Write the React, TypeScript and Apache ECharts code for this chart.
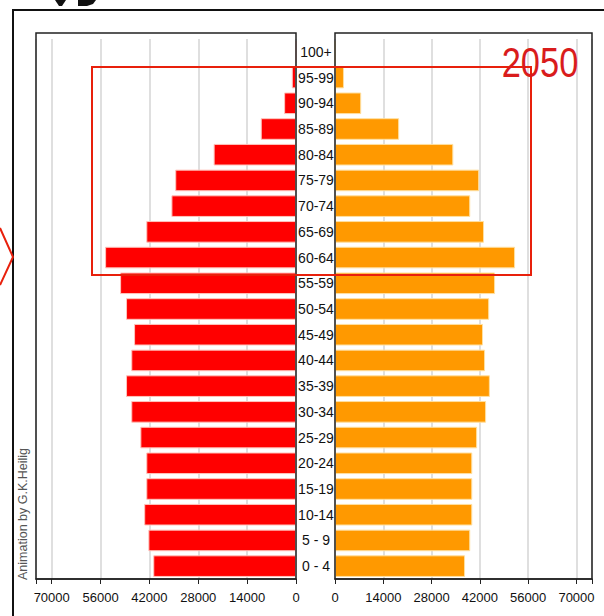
import React, { useEffect, useRef } from "react";
import * as echarts from "echarts";

const ageGroups = [
  "0 - 4", "5 - 9", "10-14", "15-19", "20-24", "25-29", "30-34", "35-39", "40-44", "45-49",
  "50-54", "55-59", "60-64", "65-69", "70-74", "75-79", "80-84", "85-89", "90-94", "95-99", "100+",
];
const leftValues = [
  40900, 42300, 43500, 42900, 42900, 44600, 47200, 48700, 47200, 46400,
  48700, 50400, 54700, 42900, 35700, 34600, 23600, 10100, 3400, 1200, 0,
];
const rightValues = [
  37700, 39200, 39800, 39800, 39800, 41200, 43800, 44900, 43500, 42900,
  44700, 46400, 52200, 43200, 39200, 41800, 34300, 18600, 7600, 2600, 0,
];
const tickStep = 14000;
const axisMax = 74500;
const yearLabel = "2050";
const creditLabel = "Animation by G.K.Heilig";

const FONT = "'Liberation Sans', Arial, sans-serif";

export default function App() {
  const ref = useRef<HTMLDivElement>(null);
  useEffect(() => {
    if (!ref.current) return;
    const chart = echarts.init(ref.current, null, { renderer: "svg" });
    const xCommon = {
      type: "value",
      min: 0,
      max: axisMax,
      interval: tickStep,
      axisLine: { show: true, lineStyle: { color: "#222", width: 1.5 } },
      axisTick: { show: true, length: 5, lineStyle: { color: "#222" } },
      splitLine: { show: true, lineStyle: { color: "#d4d4d4", width: 1.5 } },
      axisLabel: {
        color: "#111",
        fontSize: 13,
        fontFamily: FONT,
        margin: 12,
        showMaxLabel: true,
        formatter: (v: number) => (v % tickStep === 0 ? String(v) : ""),
      },
    };
    chart.setOption({
      animation: false,
      grid: [
        { left: 36, right: 308, top: 39, bottom: 37 },
        { left: 335, right: 12, top: 39, bottom: 37 },
      ],
      xAxis: [
        { ...xCommon, gridIndex: 0, inverse: true },
        { ...xCommon, gridIndex: 1 },
      ],
      yAxis: [
        {
          type: "category",
          gridIndex: 0,
          data: ageGroups,
          axisLine: { show: false },
          axisTick: { show: false },
          axisLabel: { show: false },
        },
        {
          type: "category",
          gridIndex: 1,
          data: ageGroups,
          axisLine: { show: false },
          axisTick: { show: false },
          axisLabel: {
            show: true,
            align: "center",
            margin: 19,
            color: "#111",
            fontSize: 14,
            fontFamily: FONT,
            padding: [3, 0, 0, 0],
          },
        },
      ],
      series: [
        {
          type: "bar",
          xAxisIndex: 0,
          yAxisIndex: 0,
          data: leftValues,
          barCategoryGap: "16%",
          itemStyle: { color: "#ff0000", borderColor: "#ffc4bc", borderWidth: 1 },
        },
        {
          type: "bar",
          xAxisIndex: 1,
          yAxisIndex: 1,
          data: rightValues,
          barCategoryGap: "16%",
          itemStyle: { color: "#ff9900", borderColor: "#ffe0a0", borderWidth: 1 },
        },
      ],
      graphic: [
        {
          type: "polyline",
          z: 100,
          shape: { points: [[13, 616], [13, 10], [604, 10]] },
          style: { stroke: "#111", lineWidth: 2, fill: null },
        },
        {
          type: "rect",
          z: 100,
          shape: { x: 36, y: 33, width: 260, height: 546 },
          style: { stroke: "#222", lineWidth: 1.5, fill: null },
        },
        {
          type: "rect",
          z: 100,
          shape: { x: 335, y: 33, width: 257, height: 546 },
          style: { stroke: "#222", lineWidth: 1.5, fill: null },
        },
        {
          type: "rect",
          z: 110,
          shape: { x: 92, y: 67, width: 439, height: 208 },
          style: { stroke: "#e8200c", lineWidth: 2, fill: null },
        },
        {
          type: "polyline",
          z: 110,
          shape: { points: [[0, 228], [13, 257], [0, 285]] },
          style: { stroke: "#e8200c", lineWidth: 2, fill: null },
        },
        {
          type: "polygon",
          z: 110,
          shape: { points: [[55, 0], [66, 0], [62, 6], [59, 6]] },
          style: { fill: "#111" },
        },
        {
          type: "polygon",
          z: 110,
          shape: { points: [[78, 0], [96, 0], [93, 4], [87, 6], [78, 6]] },
          style: { fill: "#111" },
        },
        {
          type: "text",
          z: 120,
          x: 540,
          y: 62,
          scaleX: 0.82,
          style: {
            text: yearLabel,
            fill: "#d91c1c",
            fontSize: 42,
            fontFamily: FONT,
            align: "center",
            verticalAlign: "middle",
          },
        },
        {
          type: "text",
          z: 120,
          x: 23,
          y: 514,
          rotation: Math.PI / 2,
          style: {
            text: creditLabel,
            fill: "#555",
            fontSize: 12.5,
            fontFamily: FONT,
            align: "center",
            verticalAlign: "middle",
          },
        },
      ],
    });
    return () => chart.dispose();
  }, []);
  return (
    <div
      ref={ref}
      style={{ position: "fixed", left: 0, top: 0, width: 604, height: 616, background: "#fff" }}
    />
  );
}
